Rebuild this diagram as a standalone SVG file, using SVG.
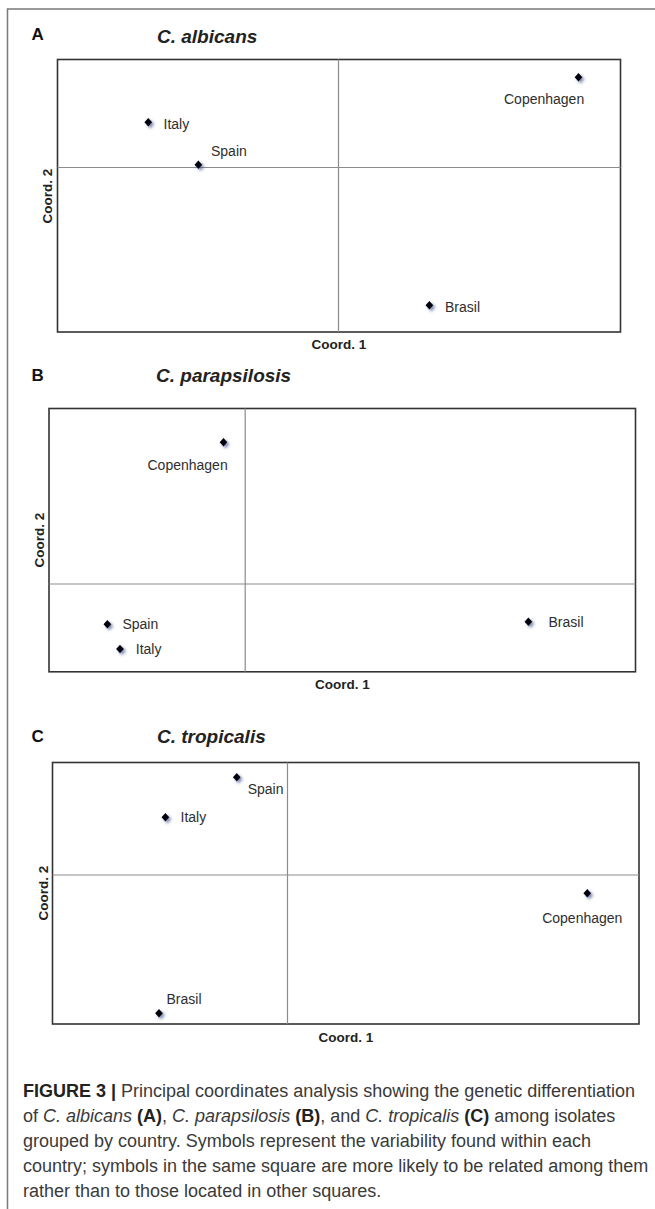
<svg xmlns="http://www.w3.org/2000/svg" xmlns:xlink="http://www.w3.org/1999/xlink" width="655" height="1209" viewBox="0 0 655 1209">
<defs>
<style>
.frame{stroke:#7a7a7a;stroke-width:1.5;fill:none}
.box{fill:#fff;stroke:#333;stroke-width:1.6}
.div{stroke:#8c8c8c;stroke-width:1.2}
.pt{fill:#05050f;filter:url(#sh)}
.lbl{font-family:"Liberation Sans",Arial,sans-serif;font-size:14px;fill:#2e2e2e}
.ax{font-family:"Liberation Sans",Arial,sans-serif;font-size:13.5px;font-weight:bold;fill:#222}
.pl{font-family:"Liberation Sans",Arial,sans-serif;font-size:17px;font-weight:bold;fill:#111}
.ti{font-family:"Liberation Sans",Arial,sans-serif;font-size:19px;font-weight:bold;font-style:italic;fill:#222}
.cap{font-family:"Liberation Sans",Arial,sans-serif;font-size:18px;fill:#3a3a3a}
.b{font-weight:bold;fill:#222}
.i{font-style:italic}
</style>
<filter id="sh" x="-2" y="-2" width="5" height="5">
<feGaussianBlur in="SourceAlpha" stdDeviation="1.5"/>
<feOffset dx="1.7" dy="2.1" result="o"/>
<feFlood flood-color="#46568a" flood-opacity="0.7"/>
<feComposite in2="o" operator="in"/>
<feMerge><feMergeNode/><feMergeNode in="SourceGraphic"/></feMerge>
</filter>
<path id="dm" d="M0,-4.2 L3.9,0 L0,4.2 L-3.9,0Z"/>
</defs>
<rect width="655" height="1209" fill="#fff"/>
<path class="frame" d="M655,9 H7.5 V1209"/>

<g id="panelA">
<text class="pl" x="31.5" y="39.5">A</text>
<text class="ti" x="157" y="43">C. albicans</text>
<rect class="box" x="57.5" y="59.5" width="563" height="272.5"/>
<line class="div" x1="338.5" y1="59.5" x2="338.5" y2="332"/>
<line class="div" x1="57.5" y1="167.5" x2="620.5" y2="167.5"/>
<text class="ax" transform="translate(52,196) rotate(-90)" text-anchor="middle">Coord. 2</text>
<text class="ax" x="339" y="349" text-anchor="middle">Coord. 1</text>
<g id="A-italy"><use xlink:href="#dm" class="pt" x="148.3" y="122.3"/><text class="lbl" x="163.5" y="128.5">Italy</text></g>
<g id="A-spain"><use xlink:href="#dm" class="pt" x="198.4" y="164.7"/><text class="lbl" x="211" y="155.5">Spain</text></g>
<g id="A-copenhagen"><use xlink:href="#dm" class="pt" x="578.5" y="77.3"/><text class="lbl" x="504" y="103.5">Copenhagen</text></g>
<g id="A-brasil"><use xlink:href="#dm" class="pt" x="429.4" y="305.3"/><text class="lbl" x="445" y="311.5">Brasil</text></g>
</g>

<g id="panelB">
<text class="pl" x="31.5" y="381">B</text>
<text class="ti" x="156" y="381.5">C. parapsilosis</text>
<rect class="box" x="49" y="408.5" width="586.5" height="263.3"/>
<line class="div" x1="245.2" y1="408.5" x2="245.2" y2="671.8"/>
<line class="div" x1="49" y1="584" x2="635.5" y2="584"/>
<text class="ax" transform="translate(44,540) rotate(-90)" text-anchor="middle">Coord. 2</text>
<text class="ax" x="342.5" y="689" text-anchor="middle">Coord. 1</text>
<g id="B-copenhagen"><use xlink:href="#dm" class="pt" x="223.5" y="442.3"/><text class="lbl" x="147.5" y="469.5">Copenhagen</text></g>
<g id="B-spain"><use xlink:href="#dm" class="pt" x="107.4" y="624.3"/><text class="lbl" x="122.4" y="628.5">Spain</text></g>
<g id="B-italy"><use xlink:href="#dm" class="pt" x="120" y="649"/><text class="lbl" x="135.8" y="653.5">Italy</text></g>
<g id="B-brasil"><use xlink:href="#dm" class="pt" x="528.4" y="621.7"/><text class="lbl" x="548.5" y="626.5">Brasil</text></g>
</g>

<g id="panelC">
<text class="pl" x="31.5" y="741.5">C</text>
<text class="ti" x="157" y="743">C. tropicalis</text>
<rect class="box" x="52.5" y="762.5" width="586.5" height="261.5"/>
<line class="div" x1="287.5" y1="762.5" x2="287.5" y2="1024"/>
<line class="div" x1="52.5" y1="875" x2="639" y2="875"/>
<text class="ax" transform="translate(48,893) rotate(-90)" text-anchor="middle">Coord. 2</text>
<text class="ax" x="346" y="1042" text-anchor="middle">Coord. 1</text>
<g id="C-spain"><use xlink:href="#dm" class="pt" x="236.8" y="777.3"/><text class="lbl" x="247.7" y="794">Spain</text></g>
<g id="C-italy"><use xlink:href="#dm" class="pt" x="165.4" y="817.3"/><text class="lbl" x="180.5" y="822.3">Italy</text></g>
<g id="C-copenhagen"><use xlink:href="#dm" class="pt" x="587.3" y="893.3"/><text class="lbl" x="542.2" y="923">Copenhagen</text></g>
<g id="C-brasil"><use xlink:href="#dm" class="pt" x="159" y="1013.3"/><text class="lbl" x="166.5" y="1004">Brasil</text></g>
</g>

<g id="caption">
<text class="cap" x="23" y="1097"><tspan class="b">FIGURE 3 |</tspan> Principal coordinates analysis showing the genetic differentiation</text>
<text class="cap" x="23" y="1122">of <tspan class="i">C. albicans</tspan> <tspan class="b">(A)</tspan>, <tspan class="i">C. parapsilosis</tspan> <tspan class="b">(B)</tspan>, and <tspan class="i">C. tropicalis</tspan> <tspan class="b">(C)</tspan> among isolates</text>
<text class="cap" x="23" y="1147">grouped by country. Symbols represent the variability found within each</text>
<text class="cap" x="23" y="1172">country; symbols in the same square are more likely to be related among them</text>
<text class="cap" x="23" y="1197">rather than to those located in other squares.</text>
</g>
</svg>
